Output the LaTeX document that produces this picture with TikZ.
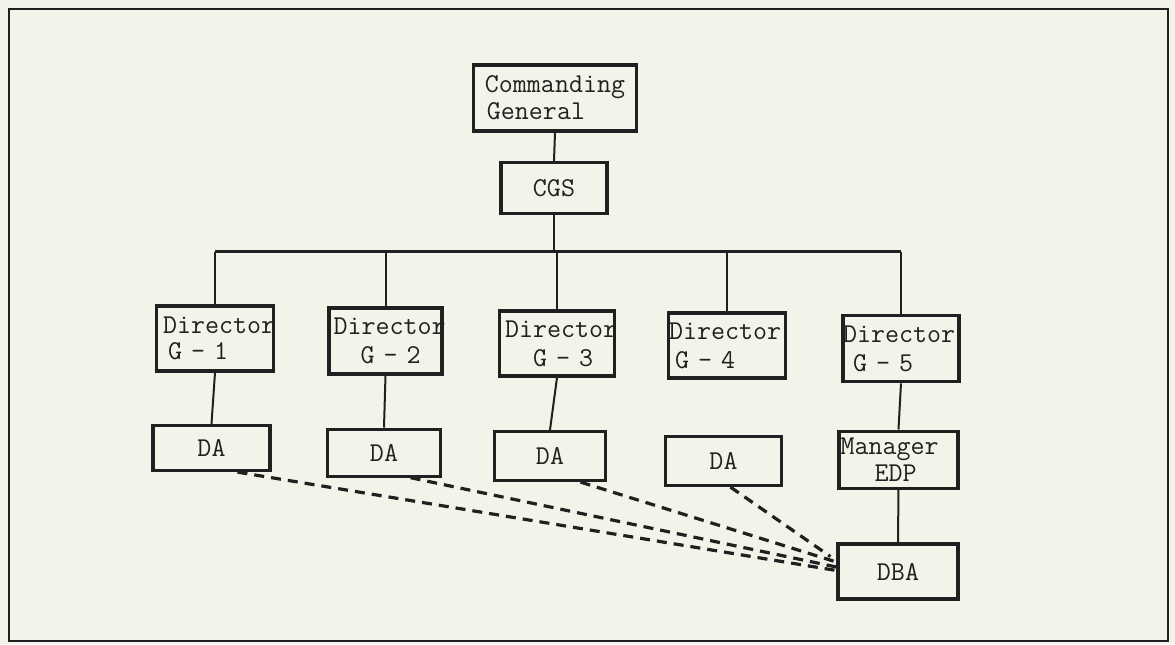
\documentclass[tikz,border=0pt]{standalone}
\usepackage{tikz}
\usetikzlibrary{positioning,calc}
\definecolor{paper}{RGB}{243,243,233}
\definecolor{ink}{RGB}{33,31,31}

\begin{document}
\begin{tikzpicture}[x=0.5pt,y=-0.5pt,
   font=\ttfamily\fontsize{13.6}{14.5}\selectfont,
   box/.style={draw=ink,line width=1.6pt,inner sep=0pt,fill=paper,text=ink},
   dirbox/.style={box,minimum width=58.5pt,minimum height=32.5pt,text width=52pt,align=left},
   dabox/.style={box,minimum width=57pt,minimum height=23.5pt},
   ln/.style={draw=ink,line width=1pt},
   busline/.style={draw=ink,line width=1.6pt},
   dl/.style={draw=ink,line width=1.6pt,dash pattern=on 5pt off 3.5pt}]
  % paper and frame
  \fill[paper] (0,0) rectangle (1175,644);
  \useasboundingbox (0,0) rectangle (1175,644);
  \draw[ink,line width=1.3pt] (9,9) rectangle (1168,641);

  \node[box,minimum width=81.5pt,minimum height=33pt,align=left] (cg) at (555,98) {Commanding\\[-1pt]\hspace*{1pt}General};
  \node[box,minimum width=53pt,minimum height=25.5pt] (cgs) at (554,188) {CGS};

  \node[dirbox] (g1) at (215,338.5) {Director\\[-1.5pt]\hspace*{2.5pt}G - 1};
  \node[dirbox,minimum width=56.5pt,minimum height=33pt] (g2) at (385.5,341) {Director\\\hspace*{13.5pt}G - 2};
  \node[dirbox,minimum width=57.5pt] (g3) at (557,343.5) {Director\\\hspace*{14pt}G - 3};
  \node[dirbox] (g4) at (727,345.5) {\hspace*{-3pt}Director\\\hspace*{0pt}G - 4};
  \node[dirbox,minimum width=58pt,minimum height=33pt] (g5) at (901,348.7) {\hspace*{-3pt}Director\\\hspace*{2pt}G - 5};

  \node[dabox,minimum width=58.5pt,minimum height=22.5pt] (da1) at (211.5,448) {DA};
  \node[dabox,minimum width=56.5pt] (da2) at (384,452.6) {DA};
  \node[dabox,minimum width=55.5pt,minimum height=24.5pt] (da3) at (550,456) {DA};
  \node[dabox,minimum width=58pt,minimum height=24.5pt] (da4) at (723.5,461) {DA};
  \node[dirbox,minimum width=59.5pt,minimum height=28.5pt] (edp) at (898.5,459.6) {\hspace*{-3pt}Manager\\[-1pt]\hspace*{14pt}EDP};
  \node[box,minimum width=60pt,minimum height=27.5pt] (dba) at (898,571.5) {DBA};

  % tree lines
  \coordinate (bus) at (556,251.5);
  \draw[ln] (cg.south) -- (cgs.north);
  \draw[busline] (g1.north |- bus) -- (g5.north |- bus);
  \draw[ln] (cgs.south) -- (cgs.south |- bus);
  \foreach \g in {g1,g2,g3,g4,g5}
    \draw[ln] (\g.north) -- (\g.north |- bus);
  \draw[ln] (g1.south) -- (da1.north);
  \draw[ln] (g2.south) -- (da2.north);
  \draw[ln] (g3.south) -- (da3.north);
  \draw[ln] (g5.south) -- (edp.north);
  \draw[ln] (edp.south) -- (dba.north);

  % dashed links to the DBA
  \draw[dl] ([xshift=13pt]da1.south) -- ([yshift=0.5pt]dba.west);
  \draw[dl] ([xshift=13.3pt]da2.south) -- ([yshift=2.25pt]dba.west);
  \draw[dl] ([xshift=15.3pt]da3.south) -- ([yshift=4.75pt]dba.west);
  \draw[dl] ([xshift=3.5pt]da4.south) -- ([xshift=-3pt,yshift=7.5pt]dba.west);
\end{tikzpicture}
\end{document}
